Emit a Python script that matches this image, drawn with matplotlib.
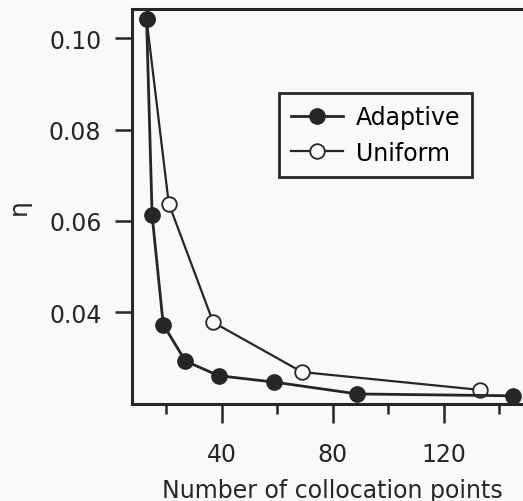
import matplotlib
matplotlib.use("Agg")
import matplotlib.pyplot as plt
from matplotlib.ticker import MultipleLocator

plt.rcParams['font.family'] = ['DejaVu Sans']

# Error indicator versus number of collocation points
adaptive_n = [13, 15, 19, 27, 39, 59, 89, 145]
adaptive_eta = [0.1041, 0.0612, 0.0373, 0.0293, 0.0261, 0.0247, 0.0221, 0.0217]

uniform_n = [13, 21, 37, 69, 133]
uniform_eta = [0.1041, 0.0638, 0.0378, 0.0269, 0.0230]

x_major = [40, 80, 120]
y_major = [0.04, 0.06, 0.08, 0.10]

ink = "#262626"
paper = "#f9f9f7"

fig = plt.figure(figsize=(5.23, 5.02), dpi=100, facecolor=paper)
ax = fig.add_axes([0.2524, 0.1932, 0.7654, 0.7869], facecolor=paper)

ax.plot(uniform_n, uniform_eta, color=ink, lw=1.6, marker='o', ms=10.5,
        mfc=paper, mec=ink, mew=1.3, label='Uniform', zorder=2)
ax.plot(adaptive_n, adaptive_eta, color=ink, lw=2.0, marker='o', ms=11,
        mfc=ink, mec=ink, label='Adaptive', zorder=3)

ax.set_xlim(7.75, 152)
ax.set_ylim(0.0199, 0.1064)
ax.set_xticks(x_major)
ax.xaxis.set_minor_locator(MultipleLocator(20))
ax.set_yticks(y_major)
ax.set_yticklabels([f"{v:.2f}" for v in y_major])

for s in ax.spines.values():
    s.set_linewidth(2.2)
    s.set_color(ink)

ax.tick_params(axis='y', which='major', direction='out', length=12, width=1.8,
               pad=10, labelsize=17, colors=ink)
ax.tick_params(axis='x', which='major', direction='out', length=14, width=1.8,
               pad=13, labelsize=17, colors=ink)
ax.tick_params(axis='x', which='minor', direction='out', length=7, width=1.8,
               colors=ink)

ax.set_xlabel("Number of collocation points", fontsize=17, color=ink, labelpad=9)
ax.set_ylabel("η", fontsize=18, color=ink, labelpad=13)

handles, labels = ax.get_legend_handles_labels()
leg = ax.legend(handles[::-1], labels[::-1], loc='upper left',
                bbox_to_anchor=(0.367, 0.787), borderaxespad=0,
                fontsize=17, frameon=True,
                fancybox=False, edgecolor=ink, facecolor=paper,
                handlelength=2.2, handletextpad=0.55, borderpad=0.5,
                labelspacing=0.5)
leg.get_frame().set_linewidth(2.0)
leg.get_frame().set_alpha(1)

fig.savefig("out.png", dpi=100, facecolor=paper)
